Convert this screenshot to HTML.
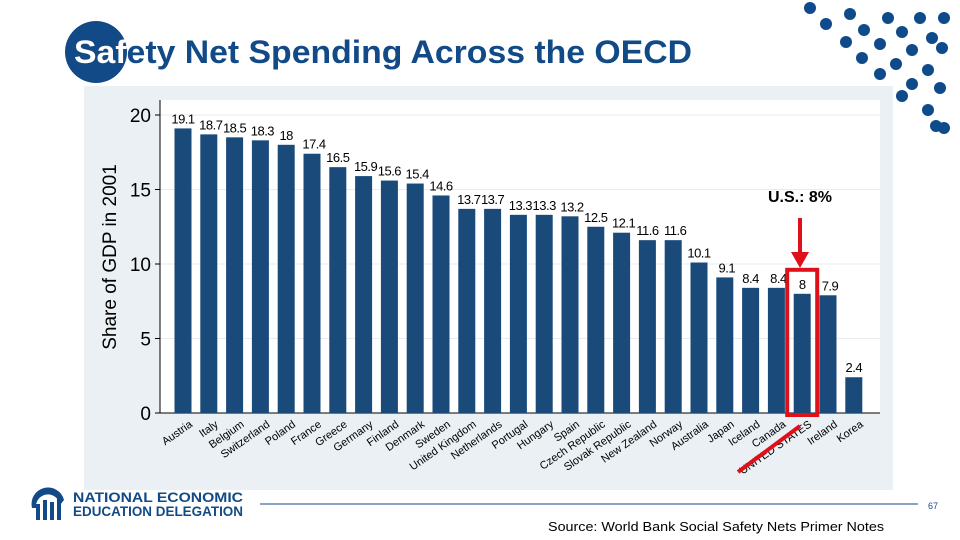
<!DOCTYPE html>
<html><head><meta charset="utf-8"><style>
body{margin:0;width:960px;height:540px;background:#fff;position:relative;overflow:hidden;font-family:"Liberation Sans",sans-serif}
</style></head><body>
<svg width="960" height="540" style="position:absolute;left:0;top:0" font-family="Liberation Sans, sans-serif">
<g fill="#0f4a8a" id="dots"></g>
<circle cx="96" cy="52" r="31" fill="#124a87"/>
<text x="74" y="63" font-size="32" font-weight="bold" fill="#124a87" textLength="618" lengthAdjust="spacingAndGlyphs"><tspan fill="#fff">Saf</tspan>ety Net Spending Across the OECD</text>
<rect x="84" y="86" width="809" height="404" fill="#eaf0f3"/>
<rect x="160" y="100" width="720" height="313" fill="#fff"/>
<g id="chart"></g>
<text transform="translate(116,257) rotate(-90)" text-anchor="middle" font-size="19" fill="#000">Share of GDP in 2001</text>
<text x="800" y="202" text-anchor="middle" font-size="16" font-weight="bold" fill="#000">U.S.: 8%</text>
<line x1="800" y1="218" x2="800" y2="255" stroke="#e0101a" stroke-width="4"/>
<polygon points="791,252 809,252 800,268" fill="#e0101a"/>
<line x1="738" y1="472" x2="800" y2="426" stroke="#e0101a" stroke-width="4"/>
<g>
<path d="M32,508 A16,16 0 0 1 64,500 L60,505 A12,12 0 0 0 36,508 Z" fill="#124a87"/>
<rect x="36" y="504" width="4" height="16" fill="#124a87"/><rect x="43" y="500" width="4" height="20" fill="#124a87"/><rect x="50" y="502" width="4" height="18" fill="#124a87"/><rect x="57" y="498" width="4" height="22" fill="#124a87"/>
<text x="73" y="502" font-size="13.5" font-weight="bold" fill="#124a87" textLength="170" lengthAdjust="spacingAndGlyphs">NATIONAL ECONOMIC</text>
<text x="73" y="516" font-size="13.5" font-weight="bold" fill="#124a87" textLength="170" lengthAdjust="spacingAndGlyphs">EDUCATION DELEGATION</text>
</g>
<line x1="260" y1="504" x2="918" y2="504" stroke="#124a87" stroke-width="1"/>
<text x="928" y="509" font-size="9" fill="#124a87">67</text>
<text x="548" y="531" font-size="13" fill="#000" textLength="336" lengthAdjust="spacingAndGlyphs">Source: World Bank Social Safety Nets Primer Notes</text>
</svg>
<script>
const categories=["Austria","Italy","Belgium","Switzerland","Poland","France","Greece","Germany","Finland","Denmark","Sweden","United Kingdom","Netherlands","Portugal","Hungary","Spain","Czech Republic","Slovak Republic","New Zealand","Norway","Australia","Japan","Iceland","Canada","UNITED STATES","Ireland","Korea"];
const values=[19.1,18.7,18.5,18.3,18,17.4,16.5,15.9,15.6,15.4,14.6,13.7,13.7,13.3,13.3,13.2,12.5,12.1,11.6,11.6,10.1,9.1,8.4,8.4,8,7.9,2.4];
const yTicks=[0,5,10,15,20];
const NS="http://www.w3.org/2000/svg";
const g=document.getElementById('chart');
function y(v){return 413-v*14.9;}
function x(i){return 183+i*25.8;}
function mk(t,a){const e=document.createElementNS(NS,t);for(const k in a)e.setAttribute(k,a[k]);g.appendChild(e);return e;}
yTicks.forEach(t=>{
 const gl=mk('line',{x1:160,x2:880,y1:y(t),y2:y(t),stroke:'#e6ecef','stroke-width':1});
 
 
 mk('line',{x1:155,x2:160,y1:y(t),y2:y(t),stroke:'#000'});
 const tx=mk('text',{x:151,y:y(t)+7,'text-anchor':'end','font-size':19,fill:'#000'});
 tx.textContent=t;
 
 
});
mk('line',{x1:160,x2:160,y1:100,y2:413,stroke:'#000'});
mk('line',{x1:160,x2:880,y1:413,y2:413,stroke:'#000'});
values.forEach((v,i)=>{
 const r=mk('rect',{x:x(i)-8.5,y:y(v),width:17,height:413-y(v),fill:'#1a4a7a'});
 
 
 const l=mk('text',{x:x(i)+(i%2?2:0),y:y(v)-5,'text-anchor':'middle','font-size':13,fill:'#000','letter-spacing':'-0.5'});
 l.textContent=v;
 
 
 const c=mk('text',{transform:`translate(${x(i)+6},420) rotate(-35)`,'text-anchor':'end','font-size':11,fill:'#000','dominant-baseline':'hanging'});
 c.textContent=categories[i];
 
 
});
const ui=categories.indexOf("UNITED STATES");
const hb=mk('rect',{x:x(ui)-15,y:y(values[ui])-24,width:30,height:413-y(values[ui])+26,fill:'none',stroke:'#e0101a','stroke-width':4});


const d=document.getElementById('dots');
const dots=[[810,8],[850,14],[888,18],[920,18],[944,18],[826,24],[864,30],[902,32],[932,38],[846,42],[880,44],[912,50],[942,48],[862,58],[896,64],[928,70],[880,74],[912,84],[940,88],[902,96],[928,110],[944,128],[936,126]];
dots.forEach(p=>{const c=document.createElementNS(NS,'circle');c.setAttribute('cx',p[0]);c.setAttribute('cy',p[1]);c.setAttribute('r',6);d.appendChild(c);});
</script>
</body></html>
